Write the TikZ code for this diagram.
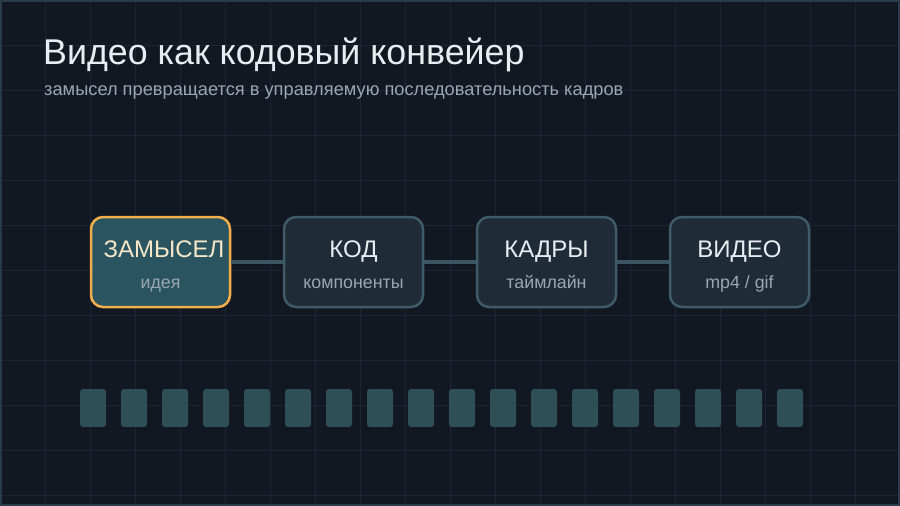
\documentclass[tikz,border=0pt]{standalone}
\usepackage{tikz}
\usepackage{xcolor}
\usepackage{fontspec}
\setmainfont{Liberation Sans}
\definecolor{hintergrund}{HTML}{121821}
\definecolor{gitter}{HTML}{1C2531}
\definecolor{rahmen}{HTML}{2B3A48}
\definecolor{blockfill}{HTML}{1F2C38}
\definecolor{blockrand}{HTML}{3F5A68}
\definecolor{aktivfill}{HTML}{2A5560}
\definecolor{aktivrand}{HTML}{F2AE4A}
\definecolor{linie}{HTML}{3C5562}
\definecolor{kadrfill}{HTML}{2F4F57}
\definecolor{titel}{HTML}{E8EDF2}
\definecolor{untertitel}{HTML}{9AA6B1}
\definecolor{creme}{HTML}{F6E7C9}

\begin{document}
\begin{tikzpicture}[x=1pt,y=-1pt,
  block/.style={rectangle, rounded corners=12pt, minimum width=139pt, minimum height=90pt, line width=2.5pt, draw=blockrand, fill=blockfill},
  aktiv/.style={block, draw=aktivrand, fill=aktivfill},
  kopf/.style={anchor=base, inner sep=0pt, font=\fontsize{24}{28}\selectfont, text=titel},
  fuss/.style={anchor=base, inner sep=0pt, font=\fontsize{17.8}{21}\selectfont, text=untertitel},
  kadr/.style={rectangle, rounded corners=3pt, minimum width=26pt, minimum height=38pt, inner sep=0pt, fill=kadrfill}]
\useasboundingbox (0,0) rectangle (900,506);
\fill[hintergrund] (0,0) rectangle (900,506);
\draw[gitter, line width=1pt, step=45pt] (0,0) grid (900,506);
\draw[rahmen, line width=2pt] (1,1) rectangle (899,505);
%\draw[help lines,yellow,thin] (0,0) grid (900,506);
\node [anchor=base west, inner sep=0pt, text=titel, font=\fontsize{35.8}{42}\selectfont] (T) at (43,64){Видео как кодовый конвейер};
\node [anchor=base west, inner sep=0pt, text=untertitel, font=\fontsize{18.25}{22}\selectfont] (S) at (44,95){замысел превращается в управляемую последовательность кадров};
\node  [aktiv] (A) at (160.5,262){};
\node  [block] (B) at (353.5,262){};
\node  [block] (C) at (546.5,262){};
\node  [block] (D) at (739.5,262){};
\draw [linie, line width=4pt] (A) -- (B);
\draw [linie, line width=4pt] (B) -- (C);
\draw [linie, line width=4pt] (C) -- (D);
\node  [kopf, text=creme] (A1) at (164,257){ЗАМЫСЕЛ};
\node  [fuss] (A2) at (160.5,288){идея};
\node  [kopf] (B1) at (353.5,257){КОД};
\node  [fuss] (B2) at (353.5,288){компоненты};
\node  [kopf] (C1) at (546.5,257){КАДРЫ};
\node  [fuss] (C2) at (546.5,288){таймлайн};
\node  [kopf] (D1) at (739.5,257){ВИДЕО};
\node  [fuss] (D2) at (739.5,288){mp4 / gif};
\node  [kadr] (k1) at (93,408){};
\node  [kadr] (k2) at (134,408){};
\node  [kadr] (k3) at (175,408){};
\node  [kadr] (k4) at (216,408){};
\node  [kadr] (k5) at (257,408){};
\node  [kadr] (k6) at (298,408){};
\node  [kadr] (k7) at (339,408){};
\node  [kadr] (k8) at (380,408){};
\node  [kadr] (k9) at (421,408){};
\node  [kadr] (k10) at (462,408){};
\node  [kadr] (k11) at (503,408){};
\node  [kadr] (k12) at (544,408){};
\node  [kadr] (k13) at (585,408){};
\node  [kadr] (k14) at (626,408){};
\node  [kadr] (k15) at (667,408){};
\node  [kadr] (k16) at (708,408){};
\node  [kadr] (k17) at (749,408){};
\node  [kadr] (k18) at (790,408){};
\end{tikzpicture}
\end{document}
